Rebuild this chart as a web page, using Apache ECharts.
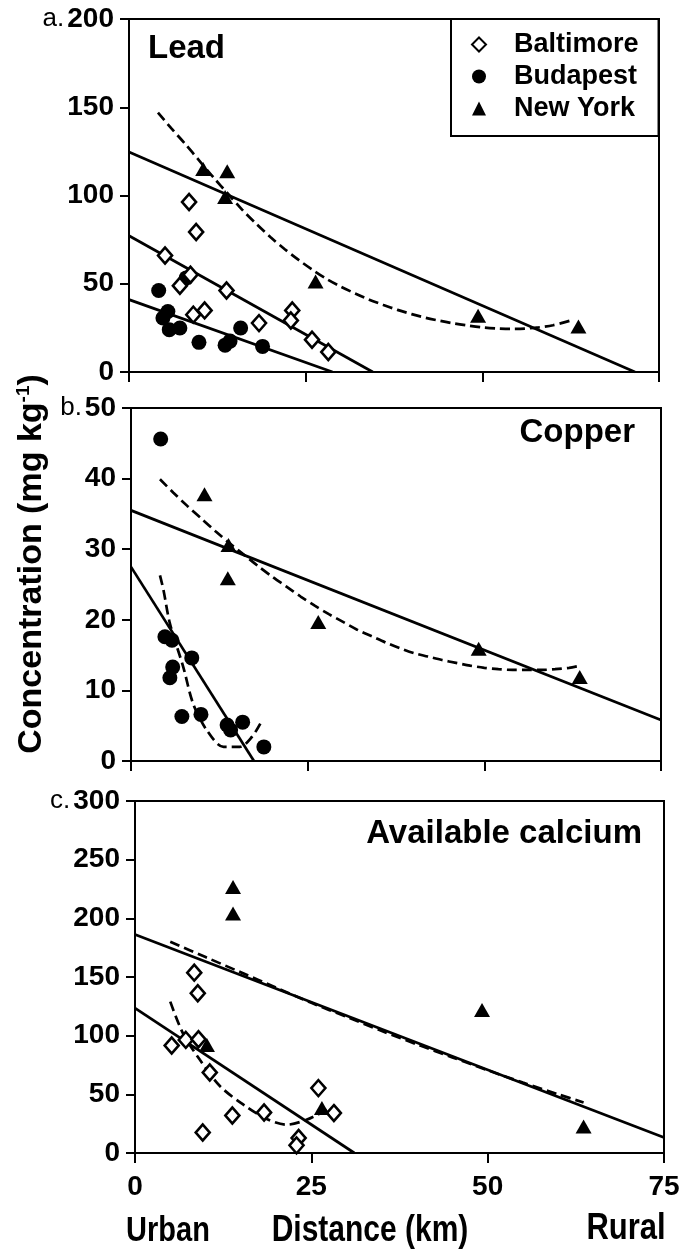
<!DOCTYPE html>
<html>
<head>
<meta charset="utf-8">
<script src="https://cdn.jsdelivr.net/npm/echarts@6/dist/echarts.min.js"></script>
<style>
html,body{margin:0;padding:0;background:#fff;}
#chart{width:683px;height:1251px;}
</style>
</head>
<body>
<div id="chart"></div>
<script>
// ---------- DATA ----------
const xTicks = [0, 25, 50, 75];
const cities = ['Baltimore', 'Budapest', 'New York'];

// a. Lead
const leadBaltimore = [[8.5,96.3],[9.5,79.3],[5.1,66.0],[8.7,55.1],[7.2,48.9],[13.8,46.2],[9.1,32.5],[10.7,34.9],[18.4,27.7],[23.1,34.9],[22.9,29.2],[25.9,18.3],[28.2,11.3]];
const leadBudapest = [[4.2,46.2],[5.5,34.3],[4.8,30.6],[5.7,24.0],[7.2,24.9],[8.1,53.3],[9.9,16.8],[13.6,15.2],[14.3,17.5],[15.8,24.9],[18.9,14.5]];
const leadNewYork = [[10.5,115],[13.9,113.7],[13.6,99.1],[26.4,51.3],[49.4,31.9],[63.6,25.8]];
const leadNYFit = [[0,124.6],[71.6,0]];
const leadBaltFit = [[0,77.2],[34.5,0]];
const leadBudaFit = [[0,41.0],[28.8,0]];
const leadNYCurve = [[4.1,147],[6,138],[8,129],[10,119.5],[12,110],[14,101],[16,92],[18,84],[20,76.5],[22,69.7],[24,63.5],[26,57.8],[28,52.6],[30,48.3],[32,44.5],[34,41],[36,38],[38,35.2],[40,32.8],[42,30.7],[44,29],[46,27.5],[48,26.3],[50,25.3],[52,24.7],[54,24.4],[56,24.6],[58,25.3],[60,26.5],[62.8,29.5]];

// b. Copper
const cuBudapest = [[4.2,45.6],[4.8,17.6],[5.8,17.1],[5.9,13.3],[5.5,11.8],[8.6,14.6],[7.2,6.3],[9.9,6.6],[13.6,5.1],[14.1,4.4],[15.8,5.5],[18.8,2.0]];
const cuNewYork = [[10.4,37.8],[13.8,30.6],[13.7,25.9],[26.5,19.7],[49.2,15.9],[63.5,11.9]];
const cuNYFit = [[0,35.5],[75,5.8]];
const cuBudaFit = [[0,27.5],[17.4,0]];
const cuNYCurve = [[4.1,39.9],[6,38],[8,36.1],[10,34.3],[12,32.5],[14,30.8],[16,29.2],[18,27.6],[20,26.1],[22,24.7],[24,23.3],[26,22.0],[28,20.8],[30,19.7],[32,18.6],[34,17.7],[36,16.8],[38,16.0],[40,15.3],[42,14.8],[44,14.3],[46,13.9],[48,13.5],[50,13.2],[52,13.0],[54,12.9],[56,12.9],[58,12.9],[60,13.0],[62,13.2],[63.1,13.4]];
const cuBudaCurve = [[4.1,26.3],[4.6,24.2],[5.5,19.5],[7.4,13.3],[8.8,8.1],[10.7,4.4],[13.1,2.0],[15.4,2.0],[17.1,3.4],[18.3,5.3]];

// c. Available calcium
const caBaltimore = [[8.4,153.7],[8.9,136.1],[5.2,91.6],[7.2,96.4],[9.0,97.0],[10.6,68.6],[9.6,17.5],[13.8,32.0],[18.3,34.5],[26.0,55.3],[28.2,34.0],[23.2,12.8],[22.9,6.5]];
const caNewYork = [[13.9,226.8],[13.9,204.2],[10.2,92.1],[26.5,38.3],[49.2,121.9],[63.6,22.6]];
const caNYFit = [[0,186.3],[75,13.3]];
const caBaltFit = [[0,123.4],[31.1,0]];
const caNYCurve = [[5,180],[10,167],[15,154],[20,141],[25,128],[30,116],[35,104],[40,92.5],[45,81.5],[50,70.5],[55,60],[60,50],[63.6,43]];
const caBaltCurve = [[5.0,129],[6.8,102],[9.2,79.4],[12.1,56.7],[15.4,41.1],[18.7,28.9],[21.5,24.1],[24.3,28.3],[27.2,36.8]];

const yRanges = [[0,200,50],[0,50,10],[0,300,50]];
const panelPrefix = ['a.', 'b.', 'c.'];
const panelTitles = ['Lead', 'Copper', 'Available calcium'];

// ---------- STYLE ----------
const FONT = "'Liberation Sans', Arial, Helvetica, sans-serif";
const grids = [
  {left:129, top:19, width:530, height:353},
  {left:131, top:408, width:530, height:353},
  {left:135, top:801, width:529, height:352}
];

const chart = echarts.init(document.getElementById('chart'), null, {renderer:'canvas'});

const xAxes = grids.map((g,i)=>({
  type:'value', gridIndex:i, min:0, max:75, interval:25,
  axisLine:{show:true, onZero:false, lineStyle:{color:'#000', width:2}},
  axisTick:{show:true, inside:false, length:10, lineStyle:{color:'#000', width:2}},
  axisLabel:{show:i===2, margin:20, color:'#000', fontSize:28, fontWeight:'bold', fontFamily:FONT},
  splitLine:{show:false}
}));

const yAxes = grids.map((g,i)=>({
  type:'value', gridIndex:i, min:yRanges[i][0], max:yRanges[i][1], interval:yRanges[i][2],
  axisLine:{show:true, onZero:false, lineStyle:{color:'#000', width:2}},
  axisTick:{show:true, inside:false, length:9, lineStyle:{color:'#000', width:2}},
  axisLabel:{
    margin:15, color:'#000', fontSize:28, fontWeight:'bold', fontFamily:FONT,
    formatter:function(v){
      if (v === yRanges[i][1]) return '{p|'+panelPrefix[i]+'}{v|'+v+'}';
      return '{v|'+v+'}';
    },
    rich:{
      p:{fontSize:26, fontWeight:'normal', fontFamily:FONT, color:'#000', padding:[0,3,0,0]},
      v:{fontSize:28, fontWeight:'bold', fontFamily:FONT, color:'#000'}
    }
  },
  splitLine:{show:false}
}));

function scatter(name, data, gi, kind){
  const s = {
    name:name, type:'scatter', xAxisIndex:gi, yAxisIndex:gi, data:data, z:5,
    symbolSize:14, emphasis:{disabled:true}
  };
  if (kind === 'diamond'){
    s.symbol = 'diamond'; s.symbolSize = [14,16];
    s.itemStyle = {color:'#fff', borderColor:'#000', borderWidth:2.6, opacity:1};
  } else if (kind === 'circle'){
    s.symbol = 'circle'; s.symbolSize = 15;
    s.itemStyle = {color:'#000', opacity:1};
  } else {
    s.symbol = 'triangle'; s.symbolSize = [16,14];
    s.itemStyle = {color:'#000', opacity:1};
  }
  return s;
}
function line(name, data, gi, dashed){
  return {
    name:name, type:'line', xAxisIndex:gi, yAxisIndex:gi, data:data, z:3,
    showSymbol:false, symbol:'none', smooth: dashed ? 0.3 : false,
    lineStyle:{color:'#000', width:2.7, type: dashed ? [10,5] : 'solid', opacity:1},
    silent:true, emphasis:{disabled:true}
  };
}

const series = [
  line('leadNYFit', leadNYFit, 0, false),
  line('leadBaltFit', leadBaltFit, 0, false),
  line('leadBudaFit', leadBudaFit, 0, false),
  line('leadNYCurve', leadNYCurve, 0, true),
  scatter('Budapest', leadBudapest, 0, 'circle'),
  scatter('Baltimore', leadBaltimore, 0, 'diamond'),
  scatter('New York', leadNewYork, 0, 'triangle'),

  line('cuNYFit', cuNYFit, 1, false),
  line('cuBudaFit', cuBudaFit, 1, false),
  line('cuNYCurve', cuNYCurve, 1, true),
  line('cuBudaCurve', cuBudaCurve, 1, true),
  scatter('Budapest', cuBudapest, 1, 'circle'),
  scatter('New York', cuNewYork, 1, 'triangle'),

  line('caNYFit', caNYFit, 2, false),
  line('caBaltFit', caBaltFit, 2, false),
  line('caNYCurve', caNYCurve, 2, true),
  line('caBaltCurve', caBaltCurve, 2, true),
  scatter('Baltimore', caBaltimore, 2, 'diamond'),
  scatter('New York', caNewYork, 2, 'triangle')
];

const textStyleBase = {fill:'#000', fontFamily:FONT, fontWeight:'bold'};

const option = {
  animation:false,
  backgroundColor:'#fff',
  grid: grids.map(g=>Object.assign({show:true, borderColor:'#000', borderWidth:2, backgroundColor:'transparent', containLabel:false, outerBoundsMode:'none'}, g)),
  xAxis: xAxes,
  yAxis: yAxes,
  legend:{
    data:cities, orient:'vertical', left:451, top:19, selectedMode:false,
    itemWidth:14, itemHeight:14, itemGap:5,
    padding:[12,20,14,20],
    borderColor:'#000', borderWidth:2, backgroundColor:'#fff',
    textStyle:{color:'#000', fontSize:27, fontWeight:'bold', fontFamily:FONT, lineHeight:26, padding:[0,0,0,23]}
  },
  graphic:[
    {type:'text', left:148, top:32, style:Object.assign({text:panelTitles[0], fontSize:33}, textStyleBase)},
    {type:'text', right:48, top:416, style:Object.assign({text:panelTitles[1], fontSize:33}, textStyleBase)},
    {type:'text', right:41, top:817, style:Object.assign({text:panelTitles[2], fontSize:33}, textStyleBase)},
    {type:'text', x:168, y:1231, scaleY:1.2, style:Object.assign({text:'Urban', fontSize:29, align:'center', verticalAlign:'middle'}, textStyleBase)},
    {type:'text', x:370, y:1231, scaleY:1.2, style:Object.assign({text:'Distance (km)', fontSize:30, align:'center', verticalAlign:'middle'}, textStyleBase)},
    {type:'text', x:626, y:1229, scaleY:1.2, style:Object.assign({text:'Rural', fontSize:31, align:'center', verticalAlign:'middle'}, textStyleBase)},
    {type:'text', x:32, y:564, rotation:Math.PI/2,
      style:{text:'{m|Concentration (mg kg}{s|-1}{m|)}', align:'center', verticalAlign:'middle', fill:'#000',
        rich:{
          m:{fontSize:34, fontWeight:'bold', fontFamily:FONT, fill:'#000', color:'#000'},
          s:{fontSize:19, fontWeight:'bold', fontFamily:FONT, fill:'#000', color:'#000', verticalAlign:'top', padding:[0,0,16,0]}
        }}}
  ],
  series:series
};
chart.setOption(option);
</script>
</body>
</html>
